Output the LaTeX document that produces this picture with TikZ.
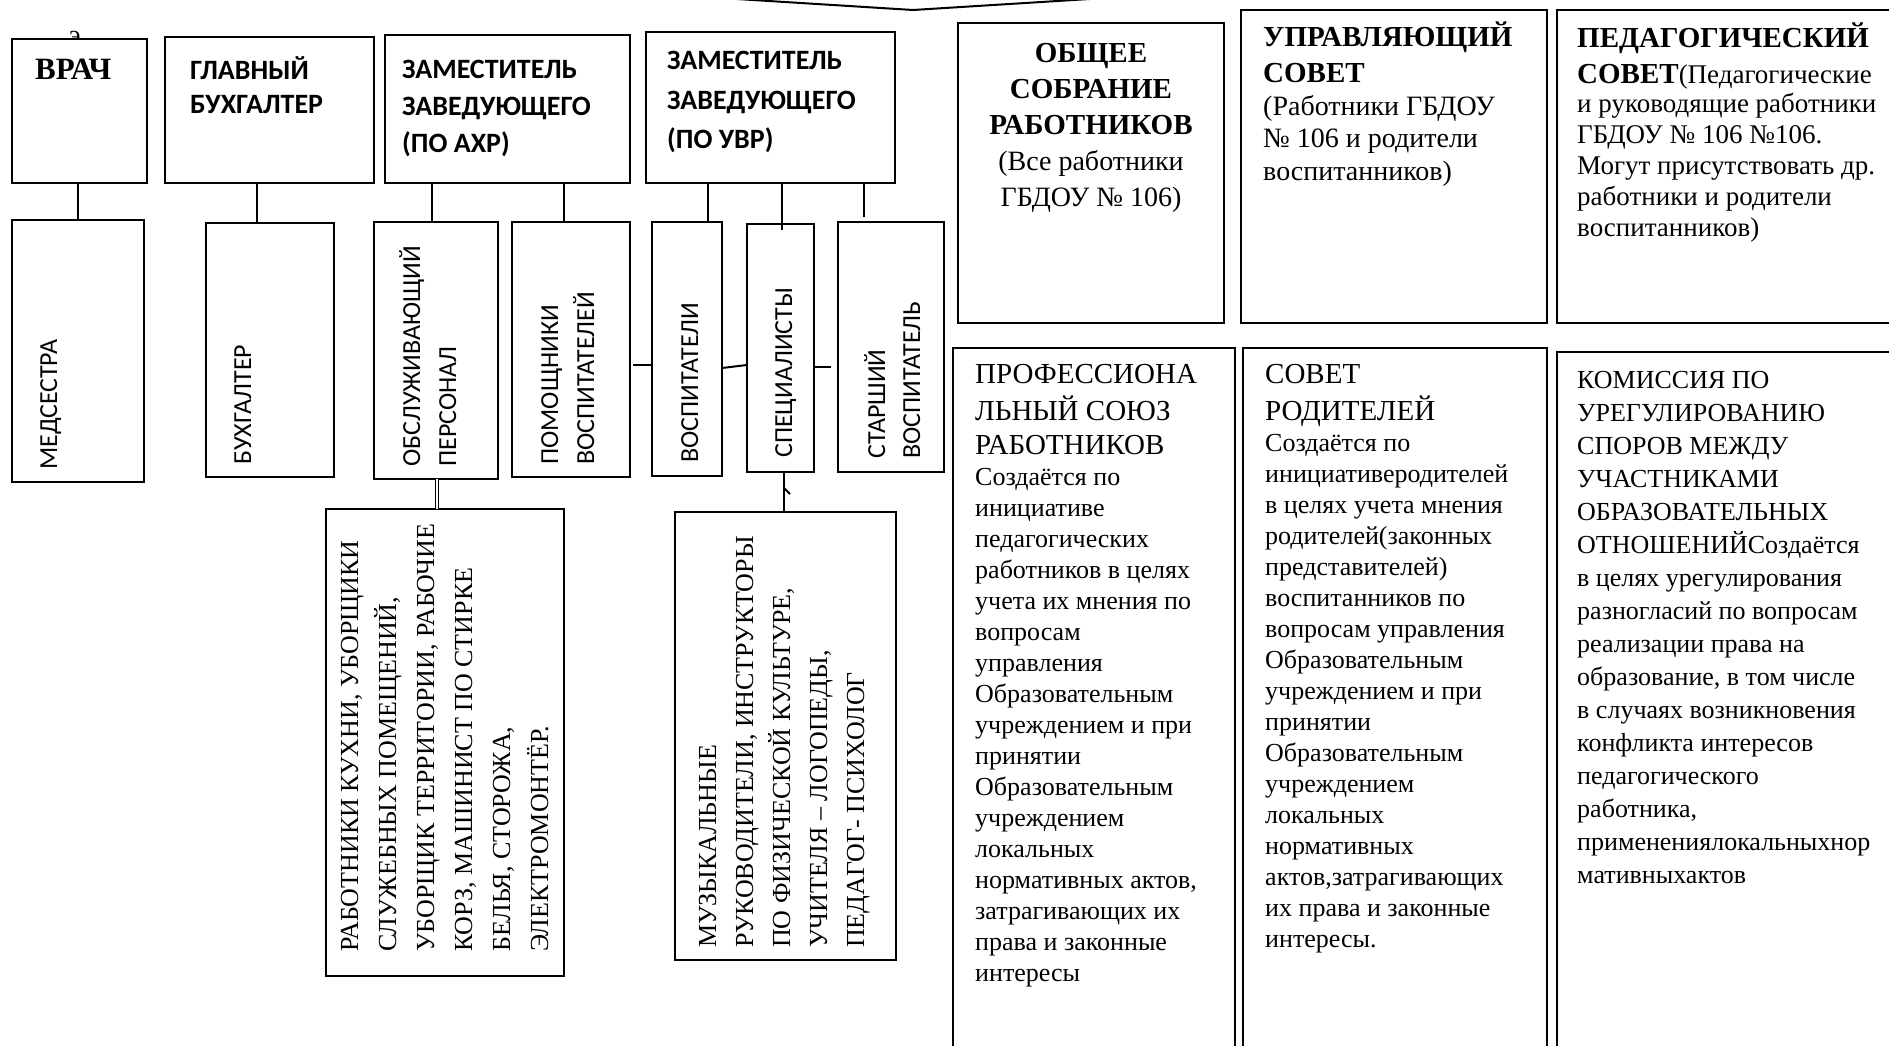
\documentclass[tikz,border=0pt]{standalone}
\usepackage{fontspec}
\setmainfont{Liberation Serif}
\newfontfamily\calib{Carlito}
\usetikzlibrary{calc}
\newcommand\mkbox[5]{\node[orgbox, minimum width={(#4-#2)*1pt}, minimum height={(#5-#3)*1pt}] (#1) at (#2,#3) {};}
\newcommand\hb[1]{{\bfseries\fontsize{29}{31}\selectfont #1}}
\newcommand\hr[1]{{\fontsize{29}{31}\selectfont #1}}
\newcommand\mylines[1]{\begin{tabular}[t]{@{}l@{}}#1\end{tabular}}
\newcommand\mycentre[1]{\begin{tabular}[t]{@{}c@{}}#1\end{tabular}}
\begin{document}
\begin{tikzpicture}[x=1pt,y=-1pt,
  orgbox/.style={draw, line width=2.4pt, fill=white, rectangle, inner sep=0pt, outer sep=0pt, anchor=north west},
  conn/.style={line width=2pt},
  txt/.style={inner sep=0pt, anchor=base west},
  ctxt/.style={inner sep=0pt, anchor=base},
  rsans/.style={inner sep=0pt, anchor=base west, rotate=90, font=\calib\fontsize{26}{36}\selectfont},
  rserif/.style={inner sep=0pt, anchor=base west, rotate=90, font=\fontsize{26}{38}\selectfont},
  hsans/.style={txt, font=\calib\bfseries\fontsize{28}{34}\selectfont},
]
\useasboundingbox (0,0) rectangle (1889,1046);
\clip (0,0) rectangle (1889,1046);
\fill[white] (0,0) rectangle (1889,1046);

% fragment of the frame above
\coordinate (vl) at (700,-3.3);
\coordinate (vm) at (913,10);
\coordinate (vr) at (1120,-2.9);
\draw[conn] (vl) -- (vm) -- (vr);

% stray glyph partly hidden by the box
\node[inner sep=0pt, anchor=base, font=\fontsize{26}{30}\selectfont] (stray) at (75,44) {э};

% top-left row
\mkbox{vrach}{12}{39}{147}{183}
\mkbox{glbuh}{165}{37}{374}{183}
\mkbox{zahr}{385}{35}{630}{183}
\mkbox{zuvr}{646}{32}{895}{183}
% councils
\mkbox{obsh}{958}{23}{1224}{323}
\mkbox{upr}{1241}{10}{1547}{323}
\mkbox{ped}{1557}{10}{1910}{323}
% staff
\mkbox{med}{12}{220}{144}{482}
\mkbox{buh}{206}{223}{334}{477}
\mkbox{obsl}{374}{222}{498}{479}
\mkbox{pom}{512}{222}{630}{477}
\mkbox{vosp}{652}{222}{722}{476}
\mkbox{spec}{747}{224}{814}{472}
\mkbox{star}{838}{222}{944}{472}
\mkbox{rab}{326}{509}{564}{976}
\mkbox{muz}{675}{512}{896}{960}
% lower right
\mkbox{prof}{953}{348}{1235}{1100}
\mkbox{sovr}{1243}{348}{1547}{1100}
\mkbox{kom}{1557}{352}{1910}{1100}

% texts
\node[txt, font=\bfseries\fontsize{31}{34}\selectfont] (tvrach) at (35,80) {ВРАЧ};
\node[hsans] (tglbuh) at (190,80) {\mylines{ГЛАВНЫЙ\\БУХГАЛТЕР}};
\node[hsans, font=\calib\bfseries\fontsize{28}{37}\selectfont] (tzahr) at (402,79) {\mylines{ЗАМЕСТИТЕЛЬ\\ЗАВЕДУЮЩЕГО\\(ПО АХР)}};
\node[hsans, font=\calib\bfseries\fontsize{28}{39.5}\selectfont] (tzuvr) at (667,70) {\mylines{ЗАМЕСТИТЕЛЬ\\ЗАВЕДУЮЩЕГО\\(ПО УВР)}};

\node[ctxt, font=\fontsize{28}{36}\selectfont] (tobsh) at (1091,63) {\mycentre{\hb{ОБЩЕЕ}\\\hb{СОБРАНИЕ}\\\hb{РАБОТНИКОВ}\\(Все работники\\ГБДОУ № 106)}};
\node[txt, font=\fontsize{28}{32.5}\selectfont] (tupr) at (1263,47) {\mylines{\hb{УПРАВЛЯЮЩИЙ}\\[3.5pt]\hb{СОВЕТ}\\(Работники  ГБДОУ\\№ 106 и родители\\воспитанников)}};
\node[txt, font=\fontsize{27}{31}\selectfont] (tped) at (1577,47.5) {\mylines{\hb{ПЕДАГОГИЧЕСКИЙ}\\[5pt]\hb{СОВЕТ}(Педагогические\\[-2pt]и руководящие работники\\ГБДОУ № 106 №106.\\Могут присутствовать  др.\\работники  и родители\\воспитанников)}};

\node[rsans] (tmed) at ($(med.south west)+(45,-12)$) {МЕДСЕСТРА};
\node[rsans] (tbuh) at ($(buh.south west)+(45,-12)$) {БУХГАЛТЕР};
\node[rsans] (tobsl) at ($(obsl.south west)+(46,-12)$) {\mylines{ОБСЛУЖИВАЮЩИЙ\\ПЕРСОНАЛ}};
\node[rsans] (tpom) at ($(pom.south west)+(46,-12)$) {\mylines{ПОМОЩНИКИ\\ВОСПИТАТЕЛЕЙ}};
\node[rsans] (tvosp) at ($(vosp.south west)+(46,-13)$) {ВОСПИТАТЕЛИ};
\node[rsans] (tspec) at ($(spec.south west)+(45,-14)$) {СПЕЦИАЛИСТЫ};
\node[rsans, font=\calib\fontsize{26}{35}\selectfont] (tstar) at ($(star.south west)+(47,-13)$) {\mylines{СТАРШИЙ\\ВОСПИТАТЕЛЬ}};

\node[rserif] (trab) at ($(rab.south west)+(32,-24)$) {\mylines{РАБОТНИКИ КУХНИ, УБОРЩИКИ\\СЛУЖЕБНЫХ ПОМЕЩЕНИЙ,\\УБОРЩИК ТЕРРИТОРИИ, РАБОЧИЕ\\КОРЗ, МАШИНИСТ ПО СТИРКЕ\\БЕЛЬЯ, СТОРОЖА,\\ЭЛЕКТРОМОНТЁР.}};
\node[rserif, font=\fontsize{26}{37}\selectfont] (tmuz) at ($(muz.south west)+(41,-12)$) {\mylines{МУЗЫКАЛЬНЫЕ\\РУКОВОДИТЕЛИ, ИНСТРУКТОРЫ\\ПО ФИЗИЧЕСКОЙ КУЛЬТУРЕ,\\УЧИТЕЛЯ – ЛОГОПЕДЫ,\\ПЕДАГОГ- ПСИХОЛОГ}};

\node[txt, font=\fontsize{26}{31}\selectfont] (tprof) at (975,383) {\mylines{\hr{ПРОФЕССИОНА}\\[3.5pt]\hr{ЛЬНЫЙ СОЮЗ}\\[3.5pt]\hr{РАБОТНИКОВ}\\Создаётся по\\инициативе\\педагогических\\работников  в целях\\учета их мнения по\\вопросам\\управления\\Образовательным\\учреждением и при\\принятии\\Образовательным\\учреждением\\локальных\\нормативных  актов,\\затрагивающих их\\права и законные\\интересы}};
\node[txt, font=\fontsize{26}{31}\selectfont] (tsovr) at (1265,383) {\mylines{\hr{СОВЕТ}\\[3.5pt]\hr{РОДИТЕЛЕЙ}\\Создаётся по\\инициативеродителей\\в целях учета мнения\\родителей(законных\\представителей)\\воспитанников по\\вопросам управления\\Образовательным\\учреждением и при\\принятии\\Образовательным\\учреждением\\локальных\\нормативных\\актов,затрагивающих\\их права и законные\\интересы.}};
\node[txt, font=\fontsize{26}{33}\selectfont] (tkom) at (1577,388) {\mylines{КОМИССИЯ  ПО\\УРЕГУЛИРОВАНИЮ\\СПОРОВ МЕЖДУ\\УЧАСТНИКАМИ\\ОБРАЗОВАТЕЛЬНЫХ\\ОТНОШЕНИЙСоздаётся\\в целях урегулирования\\разногласий по вопросам\\реализации права на\\образование, в том числе\\в случаях возникновения\\конфликта интересов\\педагогического\\работника,\\применениялокальныхнор\\мативныхактов}};

% connectors
\coordinate (xa) at (257,0);
\coordinate (xb) at (432,0);
\coordinate (xc) at (564,0);
\coordinate (xd) at (708,0);
\coordinate (xe) at (782,0);
\coordinate (xf) at (864,0);
\coordinate (xg) at (437,0);
\coordinate (xh) at (784,0);
\draw[conn] (vrach.south -| med.north) -- (med.north);
\draw[conn] (glbuh.south -| xa) -- (buh.north -| xa);
\draw[conn] (zahr.south -| xb) -- (obsl.north -| xb);
\draw[conn] (zahr.south -| xc) -- (pom.north -| xc);
\draw[conn] (zuvr.south -| xd) -- (vosp.north -| xd);
\draw[conn] (zuvr.south -| xe) -- ($(spec.north -| xe)+(0,6)$);
\coordinate (stargap) at ($(star.north -| xf)+(0,-5)$);
\draw[conn] (zuvr.south -| xf) -- (stargap);
\draw[conn] ($(pom.east)+(3,15.5)$) -- ($(vosp.west)+(0,16)$);
\draw[conn] ($(vosp.east)+(0,19)$) -- ($(spec.west)+(0,17)$);
\coordinate (stargap2) at ($(star.west)+(-7,20)$);
\draw[conn] ($(spec.east)+(0,19)$) -- (stargap2);
\draw[line width=1.2pt, double, double distance=1.4pt] (obsl.south -| xg) -- (rab.north -| xg);
\draw[conn] (spec.south -| xh) -- (muz.north -| xh);
\draw[conn] ($(spec.south -| xh)+(0,16)$) -- ++(6,6);
\end{tikzpicture}
\end{document}
